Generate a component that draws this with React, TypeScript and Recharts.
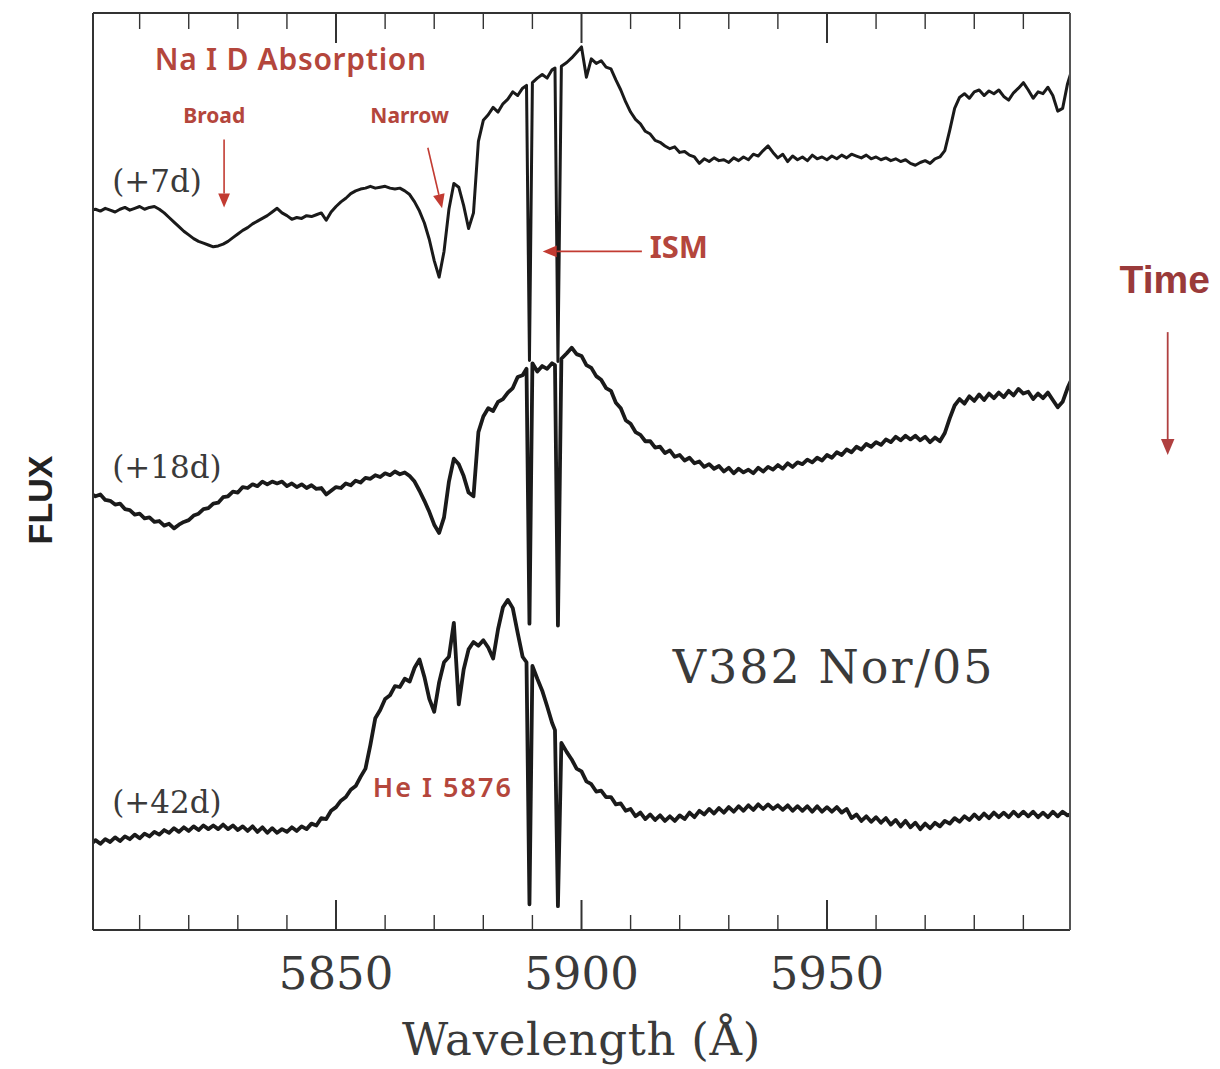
import React from "react";
import { Line, LineChart, XAxis, YAxis } from "recharts";

// Sampling grid (Å): 1 Å steps, denser through the two interstellar Na D lines
const wavelength = [
  5800, 5801, 5802, 5803, 5804, 5805, 5806, 5807, 5808, 5809,
  5810, 5811, 5812, 5813, 5814, 5815, 5816, 5817, 5818, 5819,
  5820, 5821, 5822, 5823, 5824, 5825, 5826, 5827, 5828, 5829,
  5830, 5831, 5832, 5833, 5834, 5835, 5836, 5837, 5838, 5839,
  5840, 5841, 5842, 5843, 5844, 5845, 5846, 5847, 5848, 5849,
  5850, 5851, 5852, 5853, 5854, 5855, 5856, 5857, 5858, 5859,
  5860, 5861, 5862, 5863, 5864, 5865, 5866, 5867, 5868, 5869,
  5870, 5871, 5872, 5873, 5874, 5875, 5876, 5877, 5878, 5879,
  5880, 5881, 5882, 5883, 5884, 5885, 5886, 5887, 5888,
  5888.8, 5889.4, 5890, 5891, 5892, 5893, 5894, 5894.6, 5895.2, 5895.9,
  5897, 5898, 5899,
  5900, 5901, 5902, 5903, 5904, 5905, 5906, 5907, 5908, 5909,
  5910, 5911, 5912, 5913, 5914, 5915, 5916, 5917, 5918, 5919,
  5920, 5921, 5922, 5923, 5924, 5925, 5926, 5927, 5928, 5929,
  5930, 5931, 5932, 5933, 5934, 5935, 5936, 5937, 5938, 5939,
  5940, 5941, 5942, 5943, 5944, 5945, 5946, 5947, 5948, 5949,
  5950, 5951, 5952, 5953, 5954, 5955, 5956, 5957, 5958, 5959,
  5960, 5961, 5962, 5963, 5964, 5965, 5966, 5967, 5968, 5969,
  5970, 5971, 5972, 5973, 5974, 5975, 5976, 5977, 5978, 5979,
  5980, 5981, 5982, 5983, 5984, 5985, 5986, 5987, 5988, 5989,
  5990, 5991, 5992, 5993, 5994, 5995, 5996, 5997, 5998, 5999,
  6000,
];

// Offset flux (arbitrary units), one spectrum per epoch
const flux7d = [
  78.5, 78.6, 78.4, 78.7, 78.5, 78.3, 78.6, 78.8, 78.5, 78.7,
  78.9, 78.6, 78.8, 78.9, 78.6, 78.2, 77.7, 77.2, 76.7, 76.2,
  75.8, 75.4, 75.1, 74.9, 74.7, 74.5, 74.6, 74.8, 75.1, 75.5,
  75.9, 76.3, 76.6, 77.0, 77.3, 77.6, 77.9, 78.3, 78.7, 78.2,
  77.9, 77.5, 77.7, 77.6, 77.9, 77.8, 78.0, 78.2, 77.4, 78.3,
  78.9, 79.4, 79.8, 80.3, 80.6, 80.8, 80.9, 81.1, 80.9, 81.0,
  81.1, 80.9, 80.8, 80.9, 80.6, 80.2, 79.4, 78.4, 77.1, 75.3,
  73.0, 71.2, 74.0, 78.6, 81.4, 81.0, 79.0, 76.5, 78.2, 86.0,
  88.3, 88.9, 89.7, 89.2, 90.1, 90.6, 91.4, 91.0, 91.8,
  92.1, 62.1, 92.4, 92.9, 93.3, 92.9, 93.8, 94.0, 62.0, 94.2,
  94.6, 95.1, 95.7,
  96.3, 93.0, 95.0, 94.5, 94.8, 94.1, 93.9, 92.7, 91.6, 90.3,
  89.2, 88.4, 87.9, 87.1, 86.8, 86.1, 85.9, 85.5, 85.2, 85.4,
  84.8, 84.9, 84.5, 84.3, 83.6, 84.1, 83.8, 84.2, 83.9, 84.0,
  83.7, 84.2, 83.9, 84.3, 84.0, 84.6, 84.4, 85.0, 85.5, 84.8,
  84.2, 84.6, 83.8, 84.4, 84.0, 84.3, 83.9, 84.5, 84.1, 84.3,
  84.0, 84.4, 84.1, 84.5, 84.2, 84.6, 84.4, 84.2, 84.5, 84.1,
  84.3, 84.0, 84.2, 83.9, 84.1, 83.8, 84.0, 83.6, 83.4, 83.7,
  83.9, 83.6, 84.1, 84.3, 85.0, 87.2, 89.6, 90.8, 91.2, 90.7,
  91.4, 91.6, 91.0, 91.5, 91.2, 91.6, 90.9, 90.5, 91.3, 91.8,
  92.4, 91.6, 90.7, 91.4, 91.2, 91.9, 91.0, 89.3, 89.6, 92.3,
  94.0,
];

const flux18d = [
  47.6, 47.3, 47.5, 46.9, 46.8, 46.4, 46.5, 45.9, 45.8, 45.3,
  45.4, 44.9, 45.0, 44.5, 44.6, 44.1, 44.3, 43.8, 44.2, 44.5,
  44.7, 45.2, 45.4, 45.9, 46.0, 46.5, 46.6, 47.2, 47.3, 47.8,
  47.7, 48.3, 48.2, 48.6, 48.4, 48.9, 48.6, 48.9, 48.7, 48.9,
  48.4, 48.7, 48.3, 48.6, 48.2, 48.5, 48.1, 48.2, 47.5, 47.9,
  48.3, 48.2, 48.7, 48.5, 49.0, 48.8, 49.3, 49.2, 49.6, 49.4,
  49.8, 49.6, 50.0, 49.7, 49.9, 49.5, 48.9, 47.9, 46.8, 45.6,
  44.2, 43.3, 45.0, 48.9, 51.4, 50.8, 49.5, 47.7, 47.3, 54.3,
  56.0, 56.9, 56.6, 57.6, 57.9, 58.6, 59.1, 60.3, 60.5,
  61.2, 33.4, 61.8, 60.9, 61.5, 61.2, 61.8, 61.6, 33.2, 62.3,
  62.9, 63.5, 62.8,
  62.6, 61.6, 61.3, 60.4, 60.0, 59.1, 58.8, 57.5, 56.9, 55.6,
  55.2, 54.3, 54.0, 53.3, 53.3, 52.6, 52.7, 52.0, 52.3, 51.6,
  51.8, 51.2, 51.5, 50.9, 51.1, 50.5, 50.8, 50.3, 50.6, 50.0,
  50.4, 49.8, 50.3, 49.9, 50.2, 49.8, 50.4, 50.0, 50.5, 50.2,
  50.7, 50.3, 50.9, 50.5, 51.0, 50.8, 51.3, 51.0, 51.5, 51.2,
  51.8, 51.5, 52.1, 51.8, 52.4, 52.1, 52.7, 52.4, 53.0, 52.7,
  53.2, 52.9, 53.5, 53.2, 53.8, 53.4, 53.9, 53.5, 53.9, 53.4,
  53.8, 53.2, 53.7, 53.3, 54.2, 55.8, 57.2, 57.9, 57.4, 58.2,
  57.7, 58.4, 57.8, 58.5, 58.0, 58.6, 58.1, 58.8, 58.3, 59.0,
  58.5, 58.7, 57.9, 58.5, 58.0, 58.6, 57.8, 57.0, 57.6, 59.1,
  60.3,
];

const flux42d = [
  9.3, 9.8, 9.4, 9.9, 9.6, 10.1, 9.7, 10.2, 9.9, 10.4,
  10.0, 10.5, 10.2, 10.7, 10.4, 10.9, 10.6, 11.1, 10.7, 11.2,
  10.8, 11.3, 10.9, 11.4, 11.0, 11.4, 11.0, 11.5, 11.0, 11.4,
  10.9, 11.3, 10.8, 11.3, 10.7, 11.2, 10.6, 11.1, 10.6, 11.0,
  10.7, 11.2, 10.8, 11.3, 11.0, 11.6, 11.4, 12.2, 12.1, 13.0,
  13.4, 14.1, 14.5, 15.3, 15.7, 16.7, 17.6, 20.2, 23.1, 24.0,
  25.2, 25.6, 26.6, 26.5, 27.4, 27.1, 28.6, 29.5, 27.6, 25.2,
  23.8, 27.0, 29.2, 29.8, 33.5, 24.6, 28.4, 30.6, 31.4, 31.0,
  31.6, 30.8, 29.6, 32.8, 35.2, 36.0, 35.1, 32.4, 29.8,
  29.2, 2.8, 28.8, 27.4, 26.1, 24.4, 22.6, 21.8, 2.6, 20.4,
  19.4, 18.6, 17.6,
  17.3, 16.2, 15.9, 15.1, 15.2, 14.5, 14.5, 13.7, 13.8, 13.0,
  13.2, 12.4, 12.8, 12.1, 12.6, 12.0, 12.5, 11.9, 12.4, 11.9,
  12.5, 12.1, 12.8, 12.3, 13.0, 12.6, 13.2, 12.7, 13.3, 12.8,
  13.4, 12.9, 13.5, 13.0, 13.6, 13.1, 13.7, 13.2, 13.7, 13.2,
  13.6, 13.1, 13.6, 13.0, 13.5, 13.0, 13.5, 12.9, 13.5, 12.9,
  13.4, 12.9, 13.4, 12.8, 13.2, 12.2, 12.6, 11.9, 12.4, 11.8,
  12.3, 11.7, 12.2, 11.5, 12.0, 11.3, 11.9, 11.2, 11.7, 11.0,
  11.6, 11.1, 11.7, 11.3, 11.9, 11.6, 12.2, 11.8, 12.4, 12.0,
  12.6, 12.1, 12.7, 12.2, 12.8, 12.3, 12.8, 12.3, 12.9, 12.4,
  12.9, 12.4, 12.9, 12.3, 12.8, 12.3, 12.9, 12.4, 12.9, 12.5,
  12.7,
];

const epochLabels = ["(+7d)", "(+18d)", "(+42d)"];
const tickValues = [
  5810, 5820, 5830, 5840, 5850, 5860, 5870, 5880, 5890,
  5900, 5910, 5920, 5930, 5940, 5950, 5960, 5970, 5980, 5990,
];
const labelledTicks = [5850, 5900, 5950];

const data = wavelength.map((w, i) => ({
  wavelength: w,
  d7: flux7d[i],
  d18: flux18d[i],
  d42: flux42d[i],
}));

const WIDTH = 1220;
const HEIGHT = 1069;
// the 1px axis strips (left/right y axes, top x axis) sit inside these margins
const MARGIN = { top: 12, right: 149, bottom: 0, left: 92 };
const AXIS_H = 139;
const STRIP = 1;
const X_DOMAIN: [number, number] = [5800.5, 5999.5];
const Y_DOMAIN: [number, number] = [0, 100];

const SERIF = "'DejaVu Serif', serif";
const HAND = "'Noto Sans', sans-serif";
const INK = "#3a3a3a";
const RED_TEXT = "#b4463c";
const RED_LINE = "#c23b32";

// data -> pixel, for annotations drawn over the chart
const plotLeft = MARGIN.left + STRIP;
const plotTop = MARGIN.top + STRIP;
const plotW = WIDTH - MARGIN.left - MARGIN.right - 2 * STRIP;
const plotH = HEIGHT - MARGIN.top - MARGIN.bottom - AXIS_H - STRIP;
const px = (w: number) => plotLeft + ((w - X_DOMAIN[0]) / (X_DOMAIN[1] - X_DOMAIN[0])) * plotW;
const py = (f: number) => plotTop + (1 - (f - Y_DOMAIN[0]) / (Y_DOMAIN[1] - Y_DOMAIN[0])) * plotH;

function BottomTick(props: any) {
  const { x, y, payload } = props;
  const major = labelledTicks.includes(payload.value);
  return (
    <g>
      <line x1={x} x2={x} y1={y} y2={y - (major ? 30 : 15)} stroke="#333" strokeWidth={major ? 2 : 1.4} />
      {major && (
        <text x={x} y={y + 59} textAnchor="middle" fontFamily={SERIF} fontSize={45} fill={INK}>
          {payload.value}
        </text>
      )}
    </g>
  );
}

function TopTick(props: any) {
  const { x, y, payload } = props;
  const major = labelledTicks.includes(payload.value);
  return <line x1={x} x2={x} y1={y} y2={y + (major ? 30 : 16)} stroke="#333" strokeWidth={major ? 2 : 1.4} />;
}

function Arrow({ from, to, color, head = 14, width = 1.6 }: {
  from: [number, number]; to: [number, number]; color: string; head?: number; width?: number;
}) {
  const [x1, y1] = [px(from[0]), py(from[1])];
  const [x2, y2] = [px(to[0]), py(to[1])];
  const a = Math.atan2(y2 - y1, x2 - x1);
  const hw = head * 0.42;
  const bx = x2 - head * Math.cos(a);
  const by = y2 - head * Math.sin(a);
  const pts = [
    [x2, y2],
    [bx + hw * Math.sin(a), by - hw * Math.cos(a)],
    [bx - hw * Math.sin(a), by + hw * Math.cos(a)],
  ].map((p) => p.join(",")).join(" ");
  return (
    <g>
      <line x1={x1} y1={y1} x2={bx} y2={by} stroke={color} strokeWidth={width} />
      <polygon points={pts} fill={color} />
    </g>
  );
}

function Annotations() {
  return (
    <svg width={WIDTH} height={HEIGHT} style={{ position: "absolute", left: 0, top: 0, pointerEvents: "none" }}>
      {/* epoch labels */}
      {[80.5, 49.3, 12.8].map((f, i) => (
        <text key={epochLabels[i]} x={px(5804.4)} y={py(f)} fontFamily={SERIF} fontSize={31} fill={INK}>
          {epochLabels[i]}
        </text>
      ))}
      <text x={px(5918.6)} y={py(26.9)} fontFamily={SERIF} fontSize={46} letterSpacing={2} fill={INK}>
        V382 Nor/05
      </text>

      <text x={px(5813.1)} y={py(93.8)} fontFamily={HAND} fontWeight={600} fontSize={30} letterSpacing={0.7} fill={RED_TEXT}>
        Na I D Absorption
      </text>
      <text x={px(5825.2)} y={py(88.0)} textAnchor="middle" fontFamily={HAND} fontWeight={700} fontSize={21} fill={RED_TEXT}>
        Broad
      </text>
      <text x={px(5865.0)} y={py(88.0)} textAnchor="middle" fontFamily={HAND} fontWeight={700} fontSize={21} fill={RED_TEXT}>
        Narrow
      </text>
      <Arrow from={[5827.2, 86.2]} to={[5827.2, 78.8]} color={RED_LINE} />
      <Arrow from={[5868.7, 85.3]} to={[5871.6, 78.7]} color={RED_LINE} />

      <text x={px(5913.9)} y={py(73.3)} fontFamily={HAND} fontWeight={700} fontSize={31} fill={RED_TEXT}>
        ISM
      </text>
      <Arrow from={[5912.3, 74.0]} to={[5892.1, 74.0]} color={RED_LINE} />

      <text x={px(5857.5)} y={py(14.5)} fontFamily={HAND} fontWeight={600} fontSize={27} letterSpacing={2} fill={RED_TEXT}>
        He I 5876
      </text>

      <text x={px(6009.6)} y={py(69.5)} fontFamily="'Liberation Sans', Arial, sans-serif" fontWeight={700} fontSize={39} fill="#9a3a3a">
        Time
      </text>
      <Arrow from={[6019.4, 65.2]} to={[6019.4, 51.8]} color="#b04040" head={16} width={1.8} />

      <text
        x={52}
        y={500}
        transform="rotate(-90, 52, 500)"
        textAnchor="middle"
        fontFamily="'Liberation Sans', Arial, sans-serif"
        fontWeight={700}
        fontSize={34}
        fill="#222"
      >
        FLUX
      </text>
    </svg>
  );
}

export default function App() {
  return (
    <div style={{ position: "absolute", left: 0, top: 0, width: WIDTH, height: HEIGHT, background: "#fff" }}>
      <LineChart width={WIDTH} height={HEIGHT} data={data} margin={MARGIN}>
        <XAxis
          dataKey="wavelength"
          type="number"
          domain={X_DOMAIN}
          allowDataOverflow
          ticks={tickValues}
          height={AXIS_H}
          tickSize={0}
          tickMargin={0}
          tickLine={false}
          interval={0}
          tick={<BottomTick />}
          axisLine={{ stroke: "#333", strokeWidth: 2 }}
          label={{
            value: "Wavelength (Å)",
            position: "insideBottom",
            offset: 14,
            fontFamily: SERIF,
            fontSize: 45,
            letterSpacing: 0.7,
            fill: INK,
          }}
        />
        <XAxis
          xAxisId="top"
          orientation="top"
          dataKey="wavelength"
          type="number"
          domain={X_DOMAIN}
          allowDataOverflow
          ticks={tickValues}
          height={STRIP}
          tickSize={0}
          tickMargin={0}
          tickLine={false}
          interval={0}
          tick={<TopTick />}
          axisLine={{ stroke: "#333", strokeWidth: 2 }}
        />
        <YAxis
          type="number"
          domain={Y_DOMAIN}
          width={STRIP}
          tick={false}
          tickLine={false}
          axisLine={{ stroke: "#333", strokeWidth: 2 }}
        />
        <YAxis
          yAxisId="right"
          orientation="right"
          type="number"
          domain={Y_DOMAIN}
          width={STRIP}
          tick={false}
          tickLine={false}
          axisLine={{ stroke: "#555", strokeWidth: 2 }}
        />
        <Line dataKey="d7" type="linear" stroke="#1a1a1a" strokeWidth={3} strokeLinejoin="round" dot={false} isAnimationActive={false} />
        <Line dataKey="d18" type="linear" stroke="#1a1a1a" strokeWidth={3.8} strokeLinejoin="round" dot={false} isAnimationActive={false} />
        <Line dataKey="d42" type="linear" stroke="#1a1a1a" strokeWidth={3.8} strokeLinejoin="round" dot={false} isAnimationActive={false} />
      </LineChart>
      <Annotations />
    </div>
  );
}
